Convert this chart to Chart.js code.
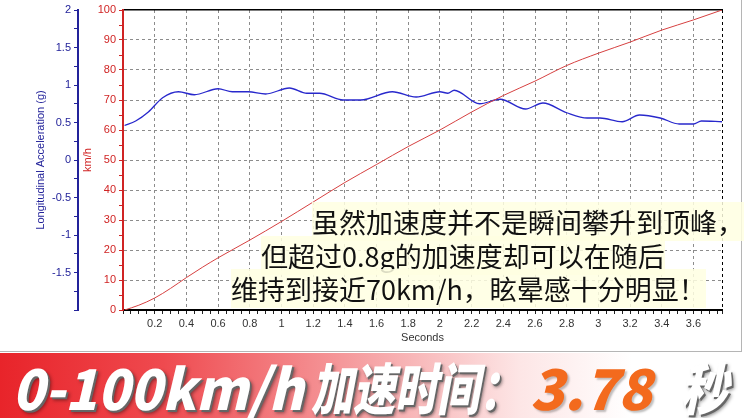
<!DOCTYPE html>
<html>
<head>
<meta charset="utf-8">
<script src="https://cdn.jsdelivr.net/npm/chart.js@4.4.1/dist/chart.umd.min.js"></script>
<style>
  body { margin: 0; width: 744px; height: 418px; overflow: hidden; background: #fff; position: relative; font-family: "Liberation Sans", Arial, sans-serif; }
  #wrap { position: absolute; left: 0; top: 0; width: 741px; height: 351px; border-right: 1px solid #b5b5b5; border-bottom: 1px solid #b5b5b5; }
  .note { position: absolute; font-family: "Noto Sans CJK SC"; font-size: 27px; line-height: 31px; color: #111; white-space: nowrap; }
  .note span { background: rgba(255, 255, 226, 0.85); }
  #banner { position: absolute; left: 0; top: 353px; width: 744px; height: 65px;
    background: linear-gradient(90deg, #e8242a 0%, #ef4a4f 22%, #f6a5a7 50%, #fde6e6 70%, #fff 85%); }
  .big { position: absolute; top: 0; height: 65px; line-height: 65px; font-family: "Noto Sans CJK SC"; font-weight: 900;
    font-size: 56px; font-style: italic; color: #fff; white-space: nowrap; transform-origin: left center;
    text-shadow: 2px 2px 0 #666, 3px 3px 4px rgba(0,0,0,0.45); }
</style>
</head>
<body>
<div id="wrap"><canvas id="chart" width="741" height="351"></canvas></div>

<div class="note" style="left:312px; top:206px;"><span>虽然加速度并不是瞬间攀升到顶峰，</span></div>
<div class="note" style="left:261px; top:240px;"><span>但超过0.8g的加速度却可以在随后</span></div>
<div class="note" style="left:231px; top:273px;"><span>维持到接近70km/h，眩晕感十分明显！</span></div>

<div id="banner">
  <div class="big" style="left:12px; transform: scaleX(0.95);">0-100km/h</div>
  <div class="big" style="left:311px; transform: scaleX(0.75);">加速时间：</div>
  <div class="big" style="left:530px; color:#f36a1d; text-shadow: 2px 2px 2px rgba(0,0,0,0.25);">3.78</div>
  <div class="big" style="left:680px; transform: scaleX(0.85);">秒</div>
</div>

<script>
// speed trace (red, km/h)
const speedTime = [0.01, 0.1, 0.2, 0.3, 0.4, 0.5, 0.6, 0.8, 1.0, 1.2, 1.4, 1.6, 1.8, 2.0, 2.2, 2.4, 2.6, 2.8, 3.0, 3.2, 3.4, 3.6, 3.78]
const speedKmh  = [0, 1.6, 4, 7.2, 10.8, 14.2, 17.4, 23.3, 29.5, 36, 42.5, 48.5, 54.5, 60, 66, 71.5, 76.3, 81.5, 85.6, 89.3, 93.3, 96.7, 100]

// longitudinal acceleration trace (blue, g)
const accTime = [0.01, 0.08, 0.16, 0.25, 0.35, 0.45, 0.6, 0.69, 0.79, 0.9, 1.05, 1.16, 1.24, 1.39, 1.5, 1.7, 1.85, 2.0, 2.05, 2.09,
                 2.25, 2.38, 2.54, 2.65, 2.8, 2.93, 3.01, 3.15, 3.26, 3.39, 3.51, 3.6, 3.65, 3.78]
const accG    = [0.46, 0.52, 0.64, 0.83, 0.91, 0.87, 0.95, 0.91, 0.91, 0.88, 0.96, 0.89, 0.89, 0.8, 0.8, 0.91, 0.84, 0.91, 0.89, 0.93,
                 0.75, 0.81, 0.68, 0.76, 0.63, 0.56, 0.56, 0.51, 0.6, 0.56, 0.48, 0.48, 0.52, 0.51]

const xMax = 3.78
const xMinorStep = 0.05, xLabelStep = 0.2
const speedMinorStep = 5, speedLabelStep = 10
const accMinorStep = 0.25, accLabelStep = 0.5

const onStep = (v, s) => Math.abs(v / s - Math.round(v / s)) < 1e-6
const stepTicks = (min, max, step) => {
    const out = []
    for (let i = 0; min + i * step <= max + 1e-9; i++) out.push({ value: +(min + i * step).toFixed(4) })
    return out
}

const RED = '#d02424'
const NAVY = '#23239a'
const GRID = '#8c8c8c'
const tickFont = { family: 'Liberation Sans', size: 11 }

new Chart(document.getElementById('chart'), {
    type: 'line',
    data: {
        datasets: [
            {
                label: 'km/h',
                data: speedTime.map((t, i) => ({ x: t, y: speedKmh[i] })),
                yAxisID: 'ySpeed',
                borderColor: '#d64040',
                borderWidth: 1,
                pointRadius: 0,
                cubicInterpolationMode: 'monotone',
            },
            {
                label: 'Longitudinal Acceleration (g)',
                data: accTime.map((t, i) => ({ x: t, y: accG[i] })),
                yAxisID: 'yAcc',
                borderColor: '#2828cc',
                borderWidth: 1.3,
                pointRadius: 0,
                cubicInterpolationMode: 'monotone',
            },
        ]
    },
    options: {
        responsive: false,
        animation: false,
        layout: { padding: { left: 30, top: 10, right: 19, bottom: 0 } },
        plugins: { legend: { display: false }, tooltip: { enabled: false } },
        scales: {
            x: {
                type: 'linear', position: 'bottom', min: 0, max: xMax,
                afterBuildTicks: (s) => { s.ticks = stepTicks(0, 3.75, xMinorStep).concat([{ value: xMax }]) },
                afterFit: (s) => { s.height = 41 },
                ticks: {
                    autoSkip: false, minRotation: 0, maxRotation: 0, padding: 3, color: '#333', font: tickFont,
                    callback: (v) => (v > 0 && v < 3.7 && onStep(v, xLabelStep)) ? String(+v.toFixed(1)) : '',
                },
                grid: {
                    color: (c) => {
                        const v = c.tick.value
                        if (Math.abs(v - xMax) < 1e-6) return '#000'
                        return (v > 0 && onStep(v, xLabelStep)) ? GRID : 'rgba(0,0,0,0)'
                    },
                    tickColor: '#222', tickLength: 4, lineWidth: 1,
                },
                border: { display: true, color: '#000', width: 2, dash: [3, 3] },
                title: { display: true, text: 'Seconds', color: '#333', font: tickFont, padding: { top: 0, bottom: 6 } },
            },
            xTop: {
                type: 'linear', position: 'top', min: 0, max: xMax,
                afterFit: (s) => { s.height = 0 },
                ticks: { display: false },
                grid: { display: false },
                border: { display: true, color: '#000', width: 1.5 },
            },
            ySpeed: {
                type: 'linear', position: 'left', min: 0, max: 100, weight: 0,
                afterBuildTicks: (s) => { s.ticks = stepTicks(0, 100, speedMinorStep) },
                afterFit: (s) => { s.width = 45 },
                ticks: {
                    autoSkip: false, padding: 3, color: RED, font: tickFont,
                    callback: (v) => onStep(v, speedLabelStep) ? String(v) : '',
                },
                grid: {
                    color: (c) => {
                        const v = c.tick.value
                        return (v > 0 && v < 100 && onStep(v, speedLabelStep)) ? GRID : 'rgba(0,0,0,0)'
                    },
                    tickColor: RED, tickLength: 4,
                },
                border: { display: true, color: RED, width: 2, dash: [3, 3] },
                title: { display: true, text: 'km/h', color: RED, font: tickFont, padding: { top: 3, bottom: 0 } },
            },
            yAcc: {
                type: 'linear', position: 'left', min: -2, max: 2, weight: 1,
                afterBuildTicks: (s) => { s.ticks = stepTicks(-2, 2, accMinorStep) },
                afterFit: (s) => { s.width = 48 },
                ticks: {
                    autoSkip: false, padding: 3, color: NAVY, font: tickFont,
                    callback: (v) => (v > -2 && onStep(v, accLabelStep)) ? String(v) : '',
                },
                grid: { drawOnChartArea: false, tickColor: NAVY, tickLength: 4 },
                border: { display: true, color: NAVY, width: 2 },
                title: { display: true, text: 'Longitudinal Acceleration (g)', color: NAVY, font: tickFont, padding: { top: 4, bottom: 0 } },
            },
        }
    }
})
</script>
</body>
</html>
